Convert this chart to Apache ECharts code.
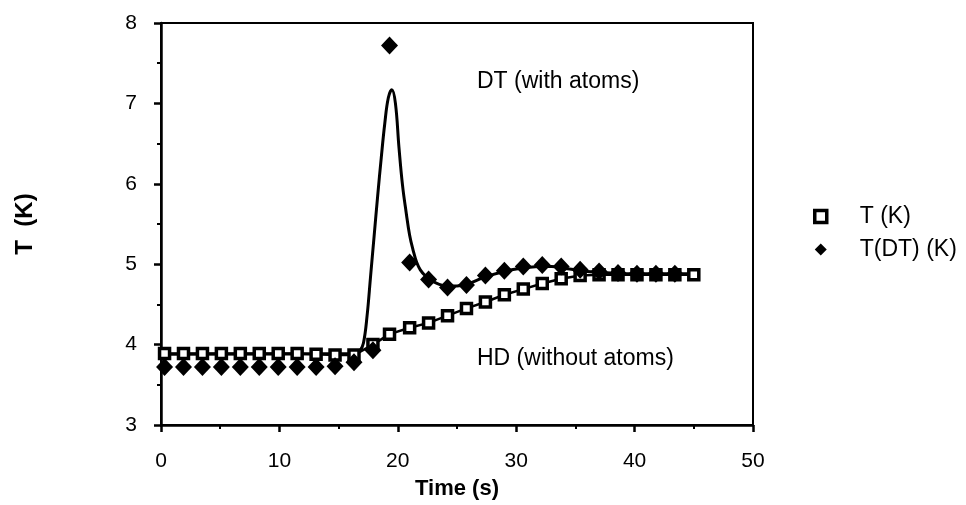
<!DOCTYPE html>
<html>
<head>
<meta charset="utf-8">
<script src="https://cdn.jsdelivr.net/npm/echarts@6/dist/echarts.min.js"></script>
<style>
  html, body { margin: 0; padding: 0; background: #fff; }
  #chart { width: 966px; height: 505px; }
</style>
</head>
<body>
<div id="chart"></div>
<script>
// sample times (s), shared by both measured series
var times = [0.3, 1.9, 3.5, 5.1, 6.7, 8.3, 9.9, 11.5, 13.1, 14.7, 16.3, 17.9, 19.3, 21.0, 22.6,
  24.2, 25.8, 27.4, 29.0, 30.6, 32.2, 33.8, 35.4, 37.0, 38.6, 40.2, 41.8, 43.4, 45.0];
// T (K) - HD, without atoms (open squares)
var tHD = [3.89, 3.89, 3.89, 3.89, 3.89, 3.89, 3.89, 3.89, 3.88, 3.87, 3.87, 4.00, 4.13, 4.21, 4.27,
  4.36, 4.45, 4.53, 4.62, 4.69, 4.76, 4.82, 4.86, 4.87, 4.87, 4.87, 4.87, 4.87, 4.87];
// T(DT) (K) - DT, with atoms (filled diamonds)
var tDT = [3.72, 3.72, 3.72, 3.72, 3.72, 3.72, 3.72, 3.72, 3.72, 3.73, 3.78, 3.93, 7.72, 5.02, 4.81,
  4.71, 4.74, 4.86, 4.92, 4.97, 4.99, 4.97, 4.93, 4.91, 4.89, 4.88, 4.88, 4.88, '-'];
// smooth fitted curve through the DT data
var fitT = [0.3, 16.5, 16.8, 17.1, 17.4, 17.7, 18.0, 18.3, 18.6, 18.9, 19.2, 19.5, 19.8, 20.1, 20.4,
  20.7, 21.0, 21.3, 21.6, 21.9, 22.3, 22.8, 23.5, 24.2, 25.0, 26.0, 27.0, 28.0, 29.0, 30.0, 31.0,
  32.0, 33.0, 34.0, 35.0, 36.0, 38.0, 40.0, 45.0];
var fitV = [3.88, 3.89, 3.92, 4.02, 4.35, 4.85, 5.35, 5.85, 6.32, 6.75, 7.07, 7.17, 7.00, 6.45, 5.98,
  5.65, 5.36, 5.17, 5.02, 4.93, 4.86, 4.80, 4.75, 4.73, 4.73, 4.76, 4.82, 4.87, 4.91, 4.94, 4.96,
  4.97, 4.97, 4.95, 4.93, 4.91, 4.89, 4.88, 4.88];

var xTicks = [0, 10, 20, 30, 40, 50];
var yTicks = [3, 4, 5, 6, 7, 8];

function pairs(xs, ys) {
  return xs.map(function (x, i) { return [x, ys[i]]; });
}

var font = 'Liberation Sans, Arial, Helvetica, sans-serif';
var chart = echarts.init(document.getElementById('chart'));

var option = {
  backgroundColor: '#fff',
  animation: false,
  textStyle: { fontFamily: font, color: '#000' },
  grid: {
    left: 161, right: 213, top: 23, bottom: 74,
    show: true, borderColor: '#000', borderWidth: 2
  },
  legend: {
    orient: 'vertical',
    left: 808, top: 200,
    itemGap: 10,
    itemWidth: 12, itemHeight: 12,
    textStyle: { fontSize: 23, fontFamily: font, color: '#000', padding: [0, 0, 0, 28] },
    data: [
      { name: 'T (K)', icon: 'rect', itemStyle: { color: '#fff', borderColor: '#000', borderWidth: 3.5 } },
      { name: 'T(DT) (K)', icon: 'diamond', itemStyle: { color: '#000' } }
    ]
  },
  xAxis: {
    type: 'value',
    min: xTicks[0], max: xTicks[xTicks.length - 1], interval: 10,
    name: 'Time (s)',
    nameLocation: 'middle',
    nameGap: 53,
    nameTextStyle: { fontSize: 22, fontWeight: 'bold', fontFamily: font, color: '#000' },
    axisLine: { lineStyle: { color: '#000', width: 2.5 } },
    axisTick: { inside: false, length: 7, lineStyle: { width: 2.5, color: '#000' } },
    minorTick: { show: true, splitNumber: 2, length: 4, lineStyle: { width: 2, color: '#000' } },
    splitLine: { show: false },
    axisLabel: { fontSize: 21, margin: 26, color: '#000', fontFamily: font }
  },
  yAxis: {
    type: 'value',
    min: yTicks[0], max: yTicks[yTicks.length - 1], interval: 1,
    name: 'T  (K)',
    nameLocation: 'middle',
    nameGap: 124,
    nameRotate: 90,
    nameTextStyle: { fontSize: 24, fontWeight: 'bold', fontFamily: font, color: '#000' },
    axisLine: { lineStyle: { color: '#000', width: 2.5 } },
    axisTick: { inside: false, length: 7, lineStyle: { width: 2.5, color: '#000' } },
    minorTick: { show: true, splitNumber: 2, length: 4, lineStyle: { width: 2, color: '#000' } },
    splitLine: { show: false },
    axisLabel: { fontSize: 21, margin: 24, color: '#000', fontFamily: font }
  },
  graphic: [
    { type: 'text', left: 477, top: 70, style: { text: 'DT (with atoms)', fontSize: 23, fontFamily: font, fill: '#000' } },
    { type: 'text', left: 477, top: 347, style: { text: 'HD (without atoms)', fontSize: 23, fontFamily: font, fill: '#000' } }
  ],
  series: [
    {
      name: 'fit',
      type: 'line',
      data: pairs(fitT, fitV),
      showSymbol: false,
      smooth: 0.4,
      lineStyle: { color: '#000', width: 3 },
      z: 2
    },
    {
      name: 'T (K)',
      type: 'line',
      data: pairs(times, tHD),
      symbol: 'rect',
      symbolSize: 10,
      lineStyle: { color: '#000', width: 2.5 },
      itemStyle: { color: '#fff', borderColor: '#000', borderWidth: 3.5 },
      z: 3
    },
    {
      name: 'T(DT) (K)',
      type: 'line',
      data: pairs(times, tDT),
      symbol: 'diamond',
      symbolSize: [17, 18],
      lineStyle: { width: 0, opacity: 0 },
      itemStyle: { color: '#000' },
      z: 4
    }
  ]
};

chart.setOption(option);
window.addEventListener('resize', function () { chart.resize(); });
</script>
</body>
</html>
